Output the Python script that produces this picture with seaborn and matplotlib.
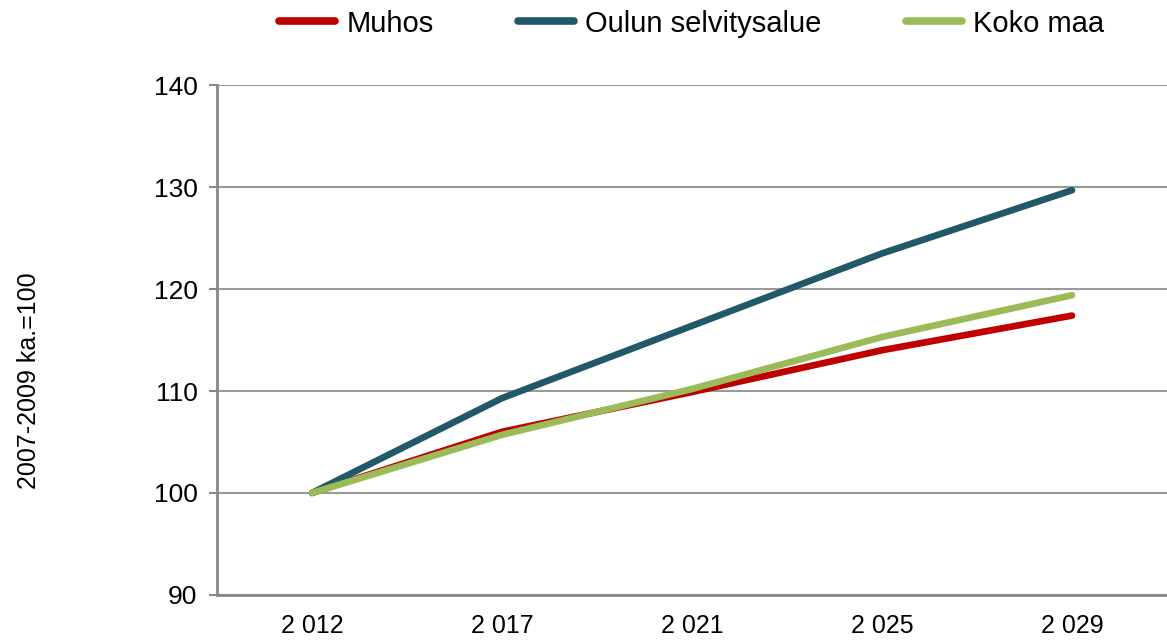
import pandas as pd
import seaborn as sns
import matplotlib.pyplot as plt
from matplotlib.ticker import FixedLocator

# Data
years = ["2 012", "2 017", "2 021", "2 025", "2 029"]
muhos = [100, 106.0, 109.9, 114.0, 117.4]
oulu = [100, 109.3, 116.4, 123.5, 129.7]
koko_maa = [100, 105.7, 110.2, 115.3, 119.4]
series_names = ["Muhos", "Oulun selvitysalue", "Koko maa"]
colors = ["#c00000", "#215968", "#9bbb59"]

df = pd.DataFrame({
    "year": years * 3,
    "value": muhos + oulu + koko_maa,
    "series": [s for s in series_names for _ in years],
})

sns.set_theme(style="white")
plt.rcParams['font.family'] = ['Liberation Sans', 'DejaVu Sans']
plt.rcParams['text.color'] = 'black'
plt.rcParams['xtick.labelcolor'] = 'black'
plt.rcParams['ytick.labelcolor'] = 'black'
plt.rcParams['axes.labelcolor'] = 'black'

fig = plt.figure(figsize=(11.67, 6.41), dpi=100)
ax = fig.add_axes([0.186, 0.072, 0.814, 0.795])

sns.lineplot(data=df, x="year", y="value", hue="series", hue_order=series_names,
             palette=dict(zip(series_names, colors)), linewidth=4.8, sort=False,
             ax=ax, solid_capstyle="round")

ax.set_xlim(-0.5, 4.5)
ax.set_ylim(90, 140)
ax.set_yticks(range(90, 141, 10))
ax.yaxis.grid(True, color="#999999", linewidth=1.5)
ax.set_axisbelow(True)

for side in ["top", "right"]:
    ax.spines[side].set_visible(False)
for side in ["left", "bottom"]:
    ax.spines[side].set_color("#878787")
    ax.spines[side].set_linewidth(2)

# category boundaries get tick marks, labels sit at centres
ax.set_xticks(range(len(years)))
ax.set_xticklabels(years)
ax.xaxis.set_minor_locator(FixedLocator([i - 0.5 for i in range(len(years) + 1)]))
ax.tick_params(axis="x", which="major", length=0, labelsize=18, pad=14)
ax.tick_params(axis="x", which="minor", length=6, width=1.5, color="#878787", direction="out")
ax.tick_params(axis="y", length=6, width=1.5, color="#878787", direction="out", labelsize=19, pad=8,
               left=True)

ax.set_xlabel("")
ax.set_ylabel("2007-2009 ka.=100", fontsize=18)
ax.yaxis.set_label_coords(-0.185, 0.42)

ax.legend(loc="upper center", bbox_to_anchor=(0.5, 1.2), ncol=3, frameon=False,
          fontsize=21, handlelength=1.9, columnspacing=2.9, handletextpad=0.4)
for h in ax.get_legend().get_lines():
    h.set_linewidth(5.5)

fig.savefig("out.png", dpi=100)
